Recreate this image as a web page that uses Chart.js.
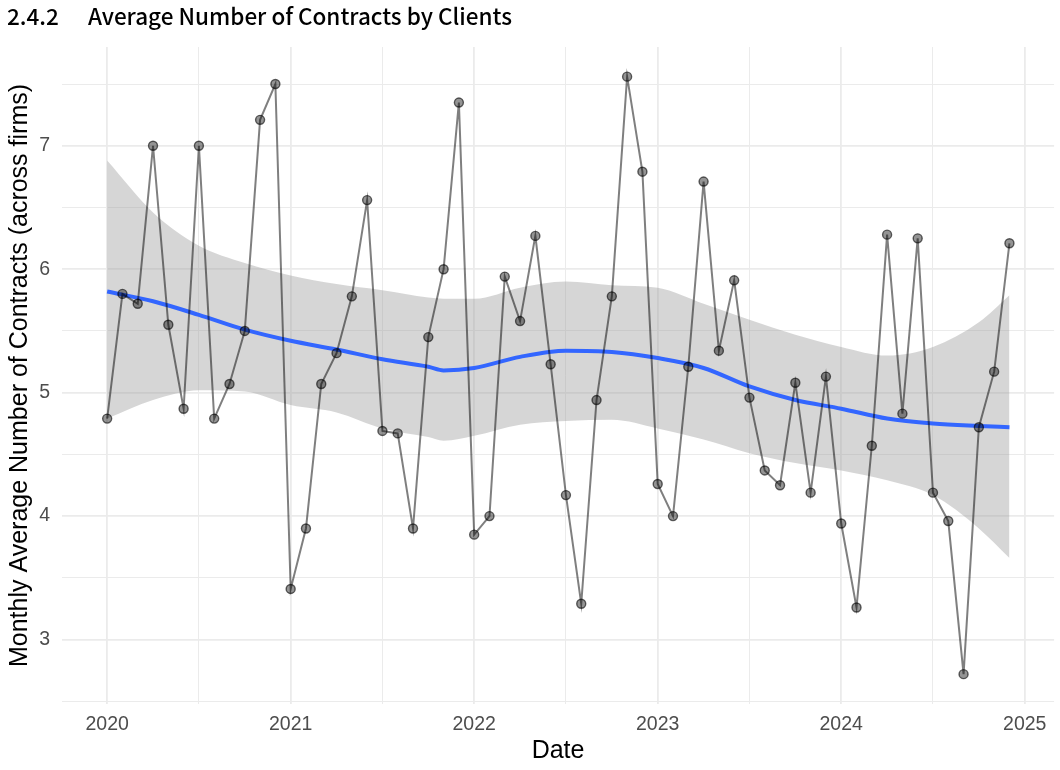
<!DOCTYPE html>
<html>
<head>
<meta charset="utf-8">
<title>Average Number of Contracts by Clients</title>
<script src="https://cdn.jsdelivr.net/npm/chart.js@4.4.1/dist/chart.umd.min.js"></script>
<style>
  html, body { margin: 0; padding: 0; background: #fff; }
  #wrap { position: relative; width: 1060px; height: 770px; }
  #heading {
    position: absolute; left: 7px; top: -1px;
    font-family: "Noto Sans CJK KR", "Noto Sans", sans-serif;
    font-size: 22.5px; font-weight: 500; color: #000; white-space: nowrap;
  }
  #heading .num { display: inline-block; width: 81px; }
</style>
</head>
<body>
<div id="wrap">
  <div id="heading"><span class="num">2.4.2</span>Average Number of Contracts by Clients</div>
  <canvas id="myChart"></canvas>
</div>
<script>
// monthly observations
var months = [
  '2020-01', '2020-02', '2020-03', '2020-04', '2020-05', '2020-06', '2020-07', '2020-08', '2020-09', '2020-10', '2020-11', '2020-12',
  '2021-01', '2021-02', '2021-03', '2021-04', '2021-05', '2021-06', '2021-07', '2021-08', '2021-09', '2021-10', '2021-11', '2021-12',
  '2022-01', '2022-02', '2022-03', '2022-04', '2022-05', '2022-06', '2022-07', '2022-08', '2022-09', '2022-10', '2022-11', '2022-12',
  '2023-01', '2023-02', '2023-03', '2023-04', '2023-05', '2023-06', '2023-07', '2023-08', '2023-09', '2023-10', '2023-11', '2023-12',
  '2024-01', '2024-02', '2024-03', '2024-04', '2024-05', '2024-06', '2024-07', '2024-08', '2024-09', '2024-10', '2024-11', '2024-12'
];
var avgContracts = [
  4.79, 5.80, 5.72, 7.00, 5.55, 4.87, 7.00, 4.79, 5.07, 5.50, 7.21, 7.50,
  3.41, 3.90, 5.07, 5.32, 5.78, 6.56, 4.69, 4.67, 3.90, 5.45, 6.00, 7.35,
  3.85, 4.00, 5.94, 5.58, 6.27, 5.23, 4.17, 3.29, 4.94, 5.78, 7.56, 6.79,
  4.26, 4.00, 5.21, 6.71, 5.34, 5.91, 4.96, 4.37, 4.25, 5.08, 4.19, 5.13,
  3.94, 3.26, 4.57, 6.28, 4.83, 6.25, 4.19, 3.96, 2.72, 4.72, 5.17, 6.21
];

// loess trend and its confidence band, read at selected months
var smoothMonths = [
  '2020-01', '2020-04', '2020-07', '2020-10', '2021-01', '2021-04', '2021-07', '2021-10', '2021-11',
  '2022-01', '2022-04', '2022-07', '2022-10', '2023-01', '2023-04', '2023-07', '2023-10',
  '2024-01', '2024-04', '2024-07', '2024-10', '2024-12'
];
var smoothFit = [
  5.82, 5.74, 5.63, 5.51, 5.42, 5.35, 5.27, 5.21, 5.18,
  5.20, 5.29, 5.34, 5.33, 5.28, 5.20, 5.05, 4.94,
  4.87, 4.79, 4.75, 4.73, 4.72
];
var bandUpper = [
  6.88, 6.46, 6.19, 6.05, 5.95, 5.88, 5.83, 5.77, 5.76,
  5.76, 5.85, 5.90, 5.87, 5.85, 5.72, 5.59, 5.47,
  5.37, 5.30, 5.37, 5.57, 5.79
];
var bandLower = [
  4.79, 4.94, 5.02, 5.01, 4.90, 4.84, 4.71, 4.64, 4.61,
  4.65, 4.74, 4.77, 4.78, 4.71, 4.62, 4.51, 4.43,
  4.37, 4.29, 4.17, 3.90, 3.66
];

var xTicks = [2020, 2021, 2022, 2023, 2024, 2025];
var yTicks = [3, 4, 5, 6, 7];

function toYear(m) {
  var p = m.split('-');
  return parseInt(p[0], 10) + (parseInt(p[1], 10) - 1) / 12;
}
function points(ms, vals) {
  return ms.map(function (m, i) { return {x: toYear(m), y: vals[i]}; });
}
function isMajor(v, list) {
  return list.some(function (t) { return Math.abs(t - v) < 1e-6; });
}

var axisFont = {family: '"Liberation Sans", Arial, sans-serif', size: 19.5};
var titleFont = {family: '"Liberation Sans", Arial, sans-serif', size: 25};

var ctx = document.getElementById('myChart').getContext('2d');
var myChart = new Chart(ctx, {
  type: 'line',
  data: {
    datasets: [
      {
        data: points(smoothMonths, bandLower),
        borderWidth: 0, pointRadius: 0, fill: false,
        cubicInterpolationMode: 'monotone', order: 3
      },
      {
        data: points(smoothMonths, bandUpper),
        borderWidth: 0, pointRadius: 0,
        backgroundColor: 'rgba(153,153,153,0.4)', fill: '-1',
        cubicInterpolationMode: 'monotone', order: 3
      },
      {
        data: points(smoothMonths, smoothFit),
        borderColor: '#3366FF', borderWidth: 4, pointRadius: 0, fill: false,
        cubicInterpolationMode: 'monotone', order: 2
      },
      {
        data: points(months, avgContracts),
        borderColor: 'rgba(0,0,0,0.5)', borderWidth: 2, tension: 0, fill: false,
        pointRadius: 4.5, pointBackgroundColor: 'rgba(0,0,0,0.42)',
        pointBorderColor: 'rgba(0,0,0,0.6)', pointBorderWidth: 1.4, order: 1
      }
    ]
  },
  options: {
    responsive: true,
    maintainAspectRatio: false,
    animation: false,
    layout: {padding: {top: 47, right: 0, bottom: 0, left: 0}},
    plugins: {legend: {display: false}, tooltip: {enabled: false}},
    scales: {
      x: {
        type: 'linear',
        min: 2019.754, max: 2025.16,
        afterFit: function (scale) { scale.height = 66; },
        border: {display: false},
        grid: {
          color: '#EBEBEB', drawTicks: false,
          lineWidth: function (c) { return c.tick && isMajor(c.tick.value, xTicks) ? 1.8 : 1; }
        },
        ticks: {
          stepSize: 0.5, maxTicksLimit: 20, includeBounds: false, autoSkip: false, maxRotation: 0,
          padding: 9, color: '#4D4D4D', font: axisFont,
          callback: function (v) { return isMajor(v, xTicks) ? String(Math.round(v)) : ''; }
        },
        title: {display: true, text: 'Date', color: '#000', font: titleFont, padding: {top: 0, bottom: 4}}
      },
      y: {
        type: 'linear',
        min: 2.478, max: 7.80,
        afterFit: function (scale) { scale.width = 62; },
        border: {display: false},
        grid: {
          color: '#EBEBEB', drawTicks: false,
          lineWidth: function (c) { return c.tick && isMajor(c.tick.value, yTicks) ? 1.8 : 1; }
        },
        ticks: {
          stepSize: 0.5, maxTicksLimit: 20, includeBounds: false, autoSkip: false,
          padding: 12, color: '#4D4D4D', font: axisFont,
          callback: function (v) { return isMajor(v, yTicks) ? String(Math.round(v)) : ''; }
        },
        title: {
          display: true, text: 'Monthly Average Number of Contracts (across firms)',
          color: '#000', font: titleFont, padding: {top: 5, bottom: 0}
        }
      }
    }
  }
});
</script>
</body>
</html>
